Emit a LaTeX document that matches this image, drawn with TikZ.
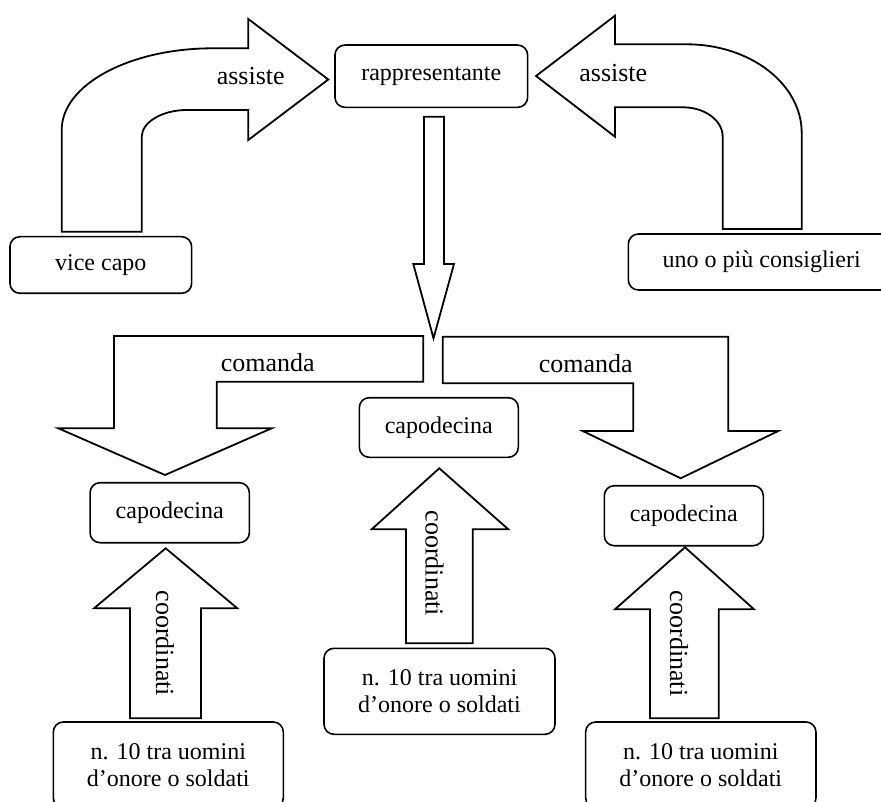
\documentclass[tikz,border=0pt]{standalone}
\usepackage{fontspec}
\setmainfont{Liberation Serif}
\begin{document}
\begin{tikzpicture}[x=1pt,y=-1pt,
  box/.style={draw, line width=1.6pt, rounded corners=10pt, align=center,
    font=\fontsize{24}{27}\selectfont, inner sep=0pt},
  blk/.style={draw, line width=1.8pt, line join=miter, fill=white},
  lbl/.style={font=\fontsize{26}{30}\selectfont, inner sep=0pt, anchor=base}]
\useasboundingbox (0,0) rectangle (881,802);
\clip (0,0) rectangle (881,802);

% boxes
\node[box, minimum width=181.7pt, minimum height=56.6pt] (vice) at (100.8,265) {vice capo};
\node[box, minimum width=192.7pt, minimum height=62.3pt] (rapp) at (431.3,76.2) {rappresentante};
\node[box, minimum width=266.7pt, minimum height=56pt] (cons) at (761.7,262) {uno o più consiglieri};
\node[box, minimum width=159.3pt, minimum height=60pt] (capL) at (169.7,512.7) {capodecina};
\node[box, minimum width=159pt, minimum height=59.6pt] (capM) at (438.8,427.5) {capodecina};
\node[box, minimum width=159pt, minimum height=60pt] (capR) at (683.8,515.7) {capodecina};
\node[box, minimum width=230pt, minimum height=86pt] (solL) at (168.3,765) {n. 10 tra uomini\\d’onore o soldati};
\node[box, minimum width=231pt, minimum height=86pt] (solM) at (439.5,691.3) {n. 10 tra uomini\\d’onore o soldati};
\node[box, minimum width=230.3pt, minimum height=86pt] (solR) at (700.8,765) {n. 10 tra uomini\\d’onore o soldati};

% left "assiste" arrow: vice capo -> rappresentante
\path[blk] (61.7,231.7) -- (61.7,130)
  .. controls (61.7,84.7) and (129.6,48.3) .. (213,48.3)
  -- (248.3,48.3) -- (248.3,19) -- (328.3,79.5) -- (248.3,140) -- (248.3,110)
  -- (187,110) .. controls (162.2,110) and (141.7,122.1) .. (141.7,137)
  -- (141.7,231.7) -- cycle;

% right "assiste" arrow: consiglieri -> rappresentante
\path[blk] (722.7,229) -- (722.7,136.7)
  .. controls (722.7,120.5) and (704.9,107.3) .. (683,107.3)
  -- (615,107.3) -- (615,136.7) -- (536,76) -- (615,15.7) -- (615,44.3)
  -- (686.7,44.3) .. controls (750.2,44.3) and (801.7,84) .. (801.7,133)
  -- (801.7,229) -- cycle;

% down arrow from rappresentante
\path[blk] (424,116.7) -- (444,116.7) -- (444,264) -- (454,264) -- (433.5,338.3)
  -- (413.3,264) -- (424,264) -- cycle;

% left "comanda" arrow
\path[blk] (423.3,336) -- (423.3,381.7) -- (216.7,381.7) -- (216.7,428.3)
  -- (271.7,428.3) -- (165,475) -- (58.3,428.3) -- (114,428.3) -- (114,336) -- cycle;

% right "comanda" arrow
\path[blk] (442.7,336.7) -- (728.3,336.7) -- (728.3,431) -- (778.3,431)
  -- (680.7,478.3) -- (582.7,431) -- (633.3,431) -- (633.3,383.3) -- (442.7,383.3) -- cycle;

% "coordinati" arrows
\path[blk] (130,718.3) -- (130,608.3) -- (94,608.3) -- (165.7,548.3) -- (237.3,608.3)
  -- (201,608.3) -- (201,718.3) -- cycle;
\path[blk] (406,643.3) -- (406,529.3) -- (371.7,529.3) -- (439.3,468.3) -- (508.3,529.3)
  -- (472.7,529.3) -- (472.7,643.3) -- cycle;
\path[blk] (650,718.3) -- (650,609.3) -- (615,609.3) -- (685,547.3) -- (754,609.3)
  -- (718.7,609.3) -- (718.7,718.3) -- cycle;

% labels
\node[lbl] (la1) at (250.7,85) {assiste};
\node[lbl] (la2) at (613.3,81.7) {assiste};
\node[lbl] (lc1) at (267.7,371.7) {comanda};
\node[lbl] (lc2) at (585.7,372.7) {comanda};
\node[lbl, anchor=center, rotate=-90] (lo1) at (165,643.3) {coordinati};
\node[lbl, anchor=center, rotate=-90] (lo2) at (434.5,563.3) {coordinati};
\node[lbl, anchor=center, rotate=-90] (lo3) at (679,643.5) {coordinati};
\end{tikzpicture}
\end{document}
